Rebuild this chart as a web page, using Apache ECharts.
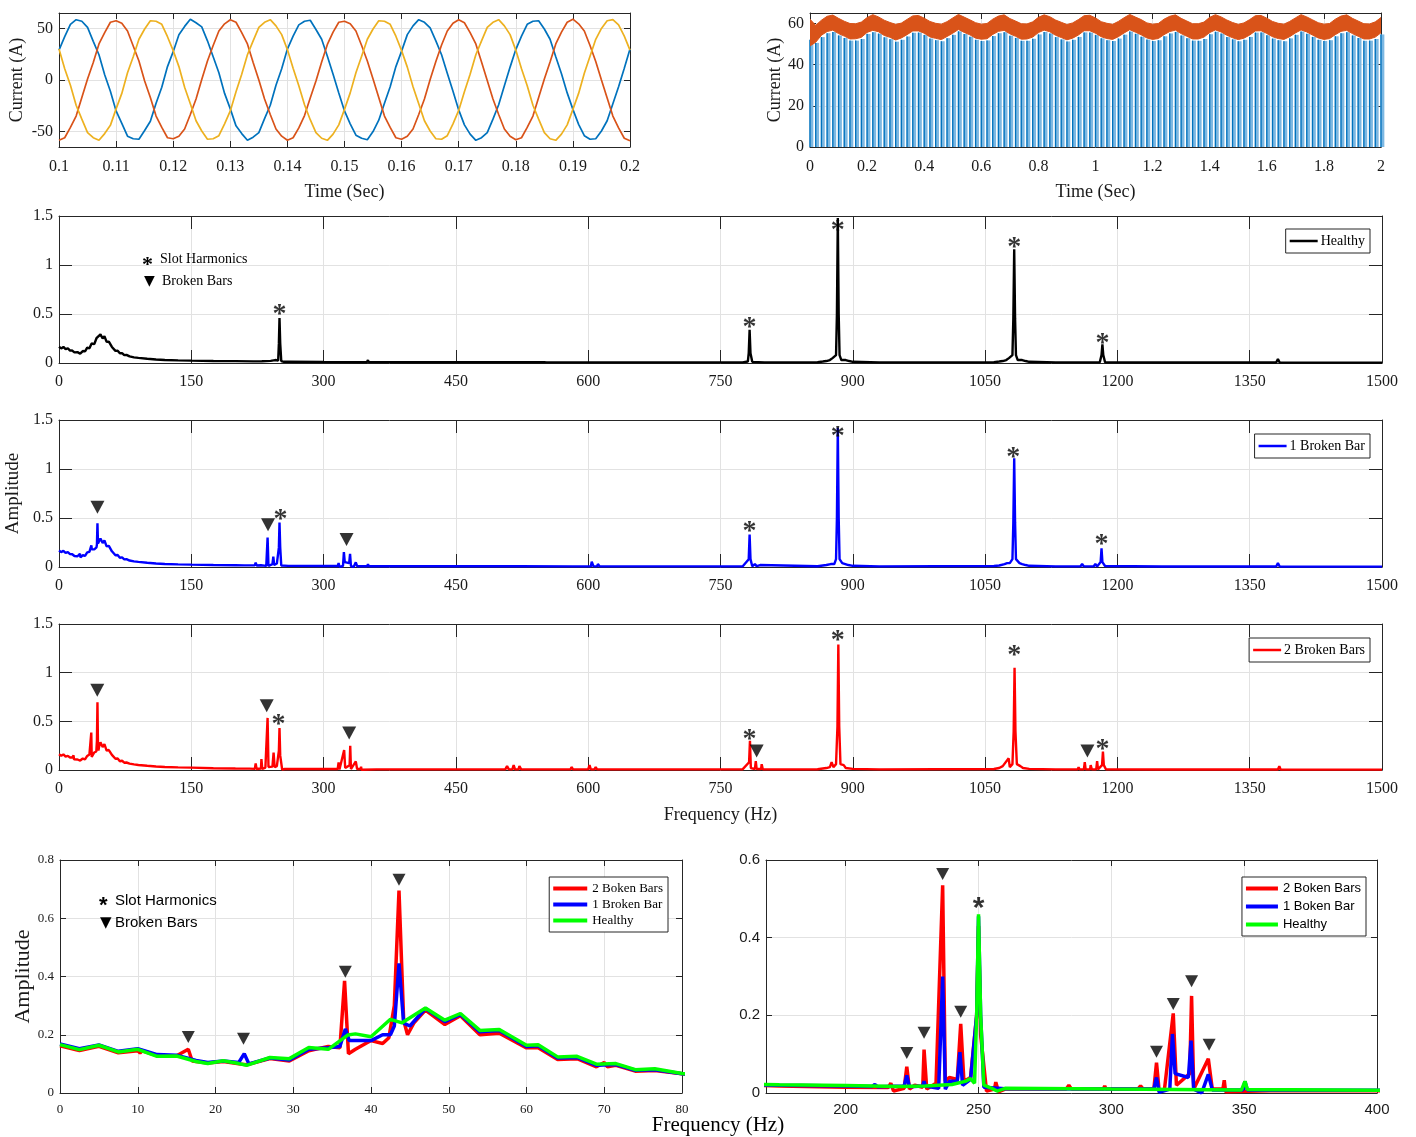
<!DOCTYPE html>
<html><head><meta charset="utf-8">
<script src="https://cdn.jsdelivr.net/npm/echarts@6/dist/echarts.min.js"></script>
<style>html,body{margin:0;padding:0;background:#fff}#c{width:1416px;height:1137px}</style>
</head><body><div id="c"></div><script>
// ---------------- DATA ----------------
// Panel A: three-phase stator currents, 0.1 s .. 0.2 s, sampled every 1 ms
const timeStartA = 0.1, timeStepA = 0.001;
const phaseBlue = [29,42,54,58.5,57,51,37.5,24.5,5,-11,-30,-42,-54.5,-57,-57.5,-49,-40,-22.5,-7,13,
 27.5,44,52,59,55.5,51.5,38,22.5,7,-13,-28,-44.5,-52,-58.5,-55.5,-51,-37.5,-24.5,-5,11,
 30,42.5,53.5,57,58,49,39.5,23,5.5,-12.5,-30,-42.5,-53.5,-56.5,-58,-50,-39,-22.5,-6.5,13,
 28,44,52.5,58.5,56,50.5,38,24.5,6.5,-11,-29,-43.5,-52.5,-58.5,-56,-51,-38,-24,-5.5,12.5,
 29.5,42.5,54,57,57.5,49.5,39.5,22.5,6,-12.5,-28.5,-43,-54,-57.5,-57,-49.5,-39.5,-23,-6.5,11.5,30];
const phaseRed = [-58.5,-56,-46,-35,-17,1,17,35,46,56,57.5,55,47.5,33,18.5,-1,-17,-35,-46,-56,
 -57,-54.5,-47.5,-33.5,-18.5,0.5,18.5,33.5,47.5,54.5,58.5,56,46,35,17,0,-18.5,-33.5,-47.5,-54.5,
 -58.5,-56,-46.5,-34.5,-17.5,-1,17.5,34.5,46.5,56,57,54.5,47.5,33.5,18.5,1,-17,-35,-46,-56,
 -57.5,-54.5,-47.5,-33.5,-18.5,0.5,18,34,47.5,55,58.5,55.5,46,35,17.5,-0.5,-18.5,-33.5,-47.5,-54.5,
 -58,-56,-46,-35,-17,1,17.5,35,46.5,56,59,54.5,47.5,33.5,18,0,-17.5,-35,-46.5,-56.5,-59];
const phaseYellow = [30,11,-5,-24.5,-38,-51,-56,-58.5,-52,-44,-28,-13,7,22.5,39.5,49.5,57.5,57,54,42,
 28.5,13,-7,-23,-39.5,-49.5,-57.5,-57,-54,-42.5,-30,-11.5,5.5,24.5,38,51,56,58.5,52.5,44,
 29.5,11.5,-5.5,-24,-38.5,-51,-56.5,-58.5,-52.5,-43.5,-28.5,-12.5,7,23,39.5,49.5,57.5,57,54,42.5,
 28.5,12.5,-6.5,-23,-39.5,-49.5,-57,-57.5,-54,-42.5,-29.5,-11.5,5.5,24.5,38,51,56,58.5,52.5,44,
 29,11,-5.5,-24.5,-38,-51,-57,-58.5,-52.5,-43.5,-28.5,-13,6.5,23,39.5,50,57.5,58.5,53.5,42.5,29];

// Panel B: 0..2 s, sampled every 20 ms
const timeStepB = 0.02;
const stripeTops = [52.0,
 50.5,53.3,55.2,55.8,54.1,52.9,51.6,51.6,52.4,54.8,55.7,55.0,53.2,52.3,51.1,
 52.0,53.6,55.4,55.5,54.3,52.6,51.8,51.3,52.8,54.4,56.1,54.8,53.5,52.0,51.4,
 51.7,53.8,55.2,55.7,54.0,52.9,51.5,51.5,52.5,54.6,55.8,55.1,53.3,52.2,51.2,
 52.0,53.4,55.6,55.5,54.3,52.7,51.8,51.4,52.6,54.5,56.0,54.9,53.5,52.1,51.4,
 51.8,53.7,55.1,55.8,54.1,52.8,51.6,51.5,52.4,54.7,55.9,55.0,53.3,52.2,51.3,
 52.0,53.4,55.5,55.6,54.2,52.6,51.8,51.3,52.7,54.4,56.0,54.9,53.4,52.0,51.4,
 51.8,53.7,55.2,55.7,54.1,52.9,51.5,51.6,52.4,54.6];
const envelopeLow = [49.0,
 50.8,54.2,56.0,56.7,55.0,53.8,52.4,52.5,53.2,55.6,56.6,55.9,54.1,53.2,51.9,
 52.9,54.5,56.3,56.3,55.2,53.4,52.7,52.1,53.6,55.2,57.0,55.6,54.4,52.8,52.3,
 52.5,54.6,56.1,56.6,54.9,53.7,52.3,52.4,53.3,55.5,56.7,55.9,54.2,53.1,52.0,
 52.8,54.3,56.4,56.4,55.2,53.5,52.6,52.2,53.5,55.3,56.9,55.7,54.4,52.9,52.2,
 52.6,54.5,56.0,56.7,55.0,53.7,52.4,52.4,53.3,55.5,56.8,55.8,54.2,53.0,52.1,
 52.8,54.3,56.3,56.4,55.1,53.5,52.6,52.2,53.5,55.3,56.8,55.8,54.3,52.9,52.2,
 52.6,54.5,56.1,56.6,55.0,53.7,52.4,52.4,53.3,55.4];
const envelopeHigh = [62.0,
 59.0,61.5,63.4,64.0,62.4,61.0,59.9,59.8,60.6,62.8,64.2,63.1,61.5,60.4,59.5,
 60.1,61.9,63.6,63.8,62.5,60.9,60.0,59.6,60.8,62.6,64.3,63.0,61.7,60.3,59.6,
 59.9,62.0,63.5,64.1,62.3,61.1,59.8,59.7,60.7,62.9,64.1,63.2,61.6,60.5,59.4,
 60.2,61.8,63.7,63.9,62.6,60.8,60.0,59.5,60.9,62.7,64.3,63.0,61.8,60.2,59.6,
 59.9,62.0,63.4,64.1,62.4,61.1,59.8,59.8,60.6,62.9,64.2,63.1,61.6,60.4,59.5,
 60.2,61.8,63.7,63.8,62.5,60.9,60.0,59.6,60.9,62.6,64.2,63.1,61.7,60.3,59.6,
 59.9,62.0,63.5,64.1,62.4,61.1,59.8,59.7,60.7,62.8];

// Spectra [frequency Hz, amplitude]
const healthySpectrum = [[0,0.166],[2.5,0.149],[5,0.164],[7.5,0.141],[10,0.15],[12.5,0.126],[15,0.127],[17.5,0.108],[19,0.101],[21,0.111],[23,0.101],[24,0.095],[27,0.122],[29.5,0.118],[32,0.156],[34.5,0.15],[37,0.199],[38,0.203],[40,0.193],[42.5,0.253],[44,0.241],[47,0.292],[49.5,0.25],[51.5,0.273],[54,0.215],[56.5,0.218],[60,0.164],[61.5,0.166],[64,0.124],[66.5,0.126],[69,0.099],[71.5,0.101],[74,0.08],[76.5,0.083],[80,0.067],[85,0.058],[90,0.052],[100,0.043],[110,0.036],[120,0.031],[135,0.027],[150,0.024],[175,0.021],[200,0.019],[220,0.017],[230,0.018],[240,0.022],[245,0.03],[247,0.037],[248.5,0.025],[249.3,0.2],[250,0.46],[250.8,0.2],[252,0.02],[255,0.012],[257,0.005],[260,0.012],[300,0.01],[349,0.008],[350.3,0.03],[351.2,0.009],[400,0.007],[483,0.007],[485,0.02],[487,0.007],[550,0.007],[551,0.012],[553,0.006],[583,0.006],[585,0.025],[587,0.006],[700,0.006],[775,0.006],[781,0.015],[782,0.1],[783,0.34],[784,0.1],[786,0.012],[800,0.006],[860,0.008],[866,0.015],[870,0.02],[874,0.03],[877,0.05],[879,0.03],[881,0.08],[882,0.5],[883,1.48],[884,0.5],[885,0.08],[887,0.03],[889,0.05],[892,0.03],[896,0.02],[900,0.012],[930,0.006],[1060,0.008],[1066,0.015],[1070,0.02],[1074,0.03],[1077,0.05],[1079,0.03],[1081,0.08],[1082,0.45],[1083,1.16],[1084,0.45],[1085,0.08],[1087,0.03],[1089,0.05],[1092,0.03],[1096,0.02],[1100,0.012],[1130,0.006],[1180,0.008],[1182,0.08],[1183,0.19],[1184,0.08],[1186,0.008],[1250,0.005],[1380,0.005],[1382,0.04],[1384,0.005],[1420,0.004],[1422,0.01],[1424,0.004],[1500,0.004]];

const oneBarSpectrum = [[0,0.168],[2.5,0.152],[5,0.165],[7.5,0.143],[10,0.152],[12.5,0.132],[15,0.13],[17.5,0.112],[19,0.105],[21,0.11],[23,0.105],[23.7,0.135],[24.3,0.1],[27,0.12],[29.5,0.113],[32,0.15],[34.5,0.155],[36,0.16],[36.7,0.22],[37.2,0.18],[40,0.18],[41.5,0.2],[42.5,0.2],[43,0.23],[43.6,0.445],[44.2,0.24],[45,0.23],[47,0.29],[49.5,0.245],[51.5,0.27],[54,0.21],[56.5,0.215],[60,0.16],[61.5,0.162],[64,0.12],[66.5,0.122],[69,0.095],[71.5,0.098],[74,0.078],[76.5,0.08],[80,0.066],[85,0.058],[90,0.052],[100,0.043],[110,0.036],[120,0.031],[135,0.027],[150,0.024],[175,0.02],[200,0.018],[210,0.017],[211,0.022],[212,0.016],[222,0.018],[223,0.045],[224,0.016],[229,0.018],[229.5,0.03],[230,0.018],[235,0.012],[236.5,0.3],[237.5,0.01],[239,0.03],[242,0.03],[243,0.105],[244,0.02],[247,0.035],[249.3,0.2],[250,0.455],[250.8,0.2],[252,0.015],[260,0.011],[300,0.01],[316,0.01],[317,0.04],[318,0.002],[322,0.01],[323,0.152],[324,0.05],[329,0.04],[330,0.135],[331,0.01],[334,0.0],[336.5,0.048],[338,0.008],[349.5,0.008],[350.3,0.03],[351.2,0.008],[400,0.007],[483,0.007],[485,0.02],[487,0.007],[510,0.007],[512,0.02],[514,0.007],[518,0.007],[520,0.015],[522,0.007],[582,0.006],[584,0.02],[586,0.006],[596,0.006],[598,0.02],[600,0.006],[603,0.006],[604,0.055],[606,0.006],[610,0.006],[611,0.03],[613,0.006],[700,0.006],[775,0.006],[782,0.08],[783,0.33],[784,0.08],[786,0.008],[789,0.03],[791,0.008],[795,0.02],[797,0.006],[860,0.008],[870,0.02],[875,0.03],[877,0.04],[879,0.03],[881,0.08],[882,0.5],[883,1.42],[884,0.5],[885,0.08],[888,0.04],[890,0.03],[895,0.02],[900,0.012],[930,0.006],[1060,0.01],[1066,0.015],[1072,0.03],[1075,0.04],[1078,0.04],[1080,0.03],[1081,0.08],[1082,0.45],[1083,1.11],[1084,0.45],[1085,0.08],[1089,0.04],[1092,0.03],[1096,0.02],[1100,0.012],[1130,0.006],[1146,0.006],[1148,0.02],[1150,0.006],[1158,0.006],[1160,0.03],[1162,0.006],[1173,0.006],[1175,0.03],[1177,0.006],[1181,0.05],[1182,0.19],[1183,0.05],[1186,0.01],[1250,0.005],[1380,0.005],[1382,0.04],[1384,0.005],[1500,0.004]];

const twoBarSpectrum = [[0,0.162],[2.5,0.146],[5,0.16],[7.5,0.138],[10,0.145],[10.3,0.138],[10.6,0.145],[12.5,0.128],[15,0.128],[16.5,0.15],[17,0.11],[19,0.103],[21,0.108],[23,0.1],[24,0.097],[27,0.118],[29.5,0.11],[32,0.145],[34.5,0.16],[36,0.155],[36.6,0.385],[37.1,0.135],[38,0.15],[40,0.18],[41.5,0.17],[42.3,0.19],[43,0.3],[43.6,0.695],[44.2,0.25],[44.7,0.2],[45.5,0.24],[47,0.285],[49.5,0.235],[51.5,0.265],[54,0.2],[56.5,0.205],[60,0.155],[61.5,0.155],[64,0.115],[66.5,0.118],[69,0.09],[70,0.105],[70.4,0.09],[71.5,0.095],[74,0.075],[76.5,0.077],[80,0.066],[85,0.058],[90,0.052],[100,0.043],[110,0.036],[120,0.031],[135,0.027],[150,0.024],[175,0.018],[200,0.015],[216,0.014],[217,0.025],[218,0.005],[222,0.012],[223,0.068],[224,0.01],[226,0.02],[229,0.015],[229.5,0.112],[230.5,0.01],[234,0.025],[236.5,0.535],[237.5,0.03],[239,0.04],[242,0.035],[243.3,0.178],[244.5,0.03],[247,0.04],[249.3,0.2],[250,0.43],[250.8,0.15],[253,0.005],[256,0.01],[256.5,0.028],[257.5,0.003],[260,0.01],[283,0.01],[284,0.02],[285,0.01],[297,0.01],[297.5,0.018],[298,0.01],[310,0.01],[311,0.018],[312,0.01],[316,0.01],[317,0.078],[318,0.005],[320,0.01],[323.3,0.205],[324.5,0.02],[329.5,0.05],[330.2,0.25],[331,0.01],[336.5,0.088],[338,0.01],[342,0.01],[342.5,0.033],[343,0.003],[360,0.006],[400,0.006],[480,0.006],[482,0.02],[484,0.006],[506,0.006],[508,0.04],[510,0.006],[514,0.006],[515.5,0.05],[517,0.006],[521,0.006],[522,0.04],[524,0.006],[544,0.006],[545,0.02],[547,0.006],[580,0.006],[581,0.03],[583,0.006],[594,0.006],[595,0.02],[597,0.006],[600,0.006],[601.5,0.05],[603,0.006],[607,0.006],[608.5,0.03],[610,0.006],[700,0.006],[775,0.006],[782.4,0.08],[783.4,0.3],[784.4,0.02],[789,0.01],[790,0.09],[791,0.01],[796,0.01],[796.7,0.06],[798,0.006],[860,0.008],[870,0.02],[874,0.03],[876,0.08],[878,0.03],[881,0.06],[882.6,0.45],[883.6,1.29],[884.6,0.45],[886,0.06],[889.7,0.05],[892,0.02],[900,0.012],[930,0.006],[1060,0.01],[1066,0.02],[1070,0.04],[1072,0.02],[1076.7,0.12],[1078,0.03],[1081,0.06],[1082.4,0.4],[1083.4,1.05],[1084.4,0.4],[1086,0.06],[1090,0.04],[1093,0.02],[1100,0.012],[1130,0.006],[1155,0.006],[1156,0.03],[1157,0.006],[1162,0.006],[1163,0.08],[1164,0.006],[1169,0.006],[1169.7,0.05],[1171,0.006],[1176,0.006],[1177,0.09],[1178,0.006],[1182.6,0.05],[1183.6,0.19],[1184.6,0.05],[1187,0.008],[1250,0.005],[1382,0.005],[1383.6,0.04],[1385,0.005],[1500,0.004]];

// Annotation marker positions [frequency, amplitude]
const slotMarksHealthy = [[250,0.57],[783,0.44],[883,1.43],[1083,1.26],[1183,0.28]];
const slotMarksOneBar = [[251,0.56],[783,0.44],[883,1.41],[1082,1.19],[1182,0.31]];
const barMarksOneBar = [[43.6,0.61],[237,0.43],[326,0.28]];
const slotMarksTwoBar = [[249,0.545],[783,0.39],[883,1.41],[1083,1.25],[1183,0.29]];
const barMarksTwoBar = [[43.4,0.82],[235.5,0.66],[329,0.38],[791,0.195],[1166,0.195]];
const barMarksLow = [[16.5,0.192],[23.6,0.186],[36.7,0.416],[43.6,0.732]];
const barMarksMid = [[223,0.103],[229.5,0.155],[236.5,0.564],[243.3,0.209],[317,0.106],[323.3,0.229],[330.2,0.288],[336.8,0.124]];
const slotMarksMid = [[250,0.497]];

// tick values
const ticksA_y = [-50,0,50];
const ticksB_y = [0,20,40,60];
const ticksG_x = [200,250,300,350,400];

// ---------------- CHART ----------------
const SERIF = 'Liberation Serif', SANS = 'Liberation Sans';
const INK = '#262626', GL = '#e2e2e2';
const grids = [
 {left:59, top:13, width:571, height:134},
 {left:810, top:13, width:571, height:134},
 {left:59, top:216, width:1323, height:147},
 {left:59, top:420, width:1323, height:147},
 {left:59, top:624, width:1323, height:146},
 {left:60, top:860, width:622, height:233},
 {left:766, top:860, width:611, height:233}
];
const axSpec = [
 {x:{min:0.1,max:0.2,interval:0.01,name:'Time (Sec)',ng:36,nfs:18}, y:{min:-65,max:65,custom:ticksA_y,name:'Current (A)',ng:33,nfs:18}, tl:6, fs:16, ff:SERIF, lm:12},
 {x:{min:0,max:2,interval:0.2,name:'Time (Sec)',ng:36,nfs:18}, y:{min:0,max:65,custom:ticksB_y,name:'Current (A)',ng:26,nfs:18}, tl:6, fs:16, ff:SERIF, lm:12},
 {x:{min:0,max:1500,interval:150}, y:{min:0,max:1.5,interval:0.5}, tl:13, fs:16, ff:SERIF, lm:11},
 {x:{min:0,max:1500,interval:150}, y:{min:0,max:1.5,interval:0.5,name:'Amplitude',ng:27,nfs:19}, tl:13, fs:16, ff:SERIF, lm:11},
 {x:{min:0,max:1500,interval:150,name:'Frequency (Hz)',ng:36,nfs:18}, y:{min:0,max:1.5,interval:0.5}, tl:13, fs:16, ff:SERIF, lm:11},
 {x:{min:0,max:80,interval:10}, y:{min:0,max:0.8,interval:0.2,name:'Amplitude',ng:24,nfs:22}, tl:6, fs:13, ff:SERIF, lm:10},
 {x:{min:170,max:400,custom:ticksG_x}, y:{min:0,max:0.6,interval:0.2}, tl:6, fs:15, ff:SANS, lm:9}
];
const fmtNum = v => String(parseFloat(Number(v).toPrecision(10)));
const xAxis = [], yAxis = [];
axSpec.forEach((s, gi) => {
  ['x','y'].forEach(k => {
    const a = s[k];
    ['main','opp'].forEach(which => {
      const main = which === 'main';
      const o = {
        type:'value', gridIndex:gi, min:a.min, max:a.max,
        position: k==='x' ? (main?'bottom':'top') : (main?'left':'right'),
        axisLine:{show:true,onZero:false,lineStyle:{color:INK,width:1}},
        axisTick:{show:true,inside:true,length:s.tl,lineStyle:{color:INK,width:1}},
        axisLabel:{show:main,color:'#1a1a1a',fontFamily:s.ff,fontSize:s.fs,margin:k==='x'?s.lm:6,formatter:fmtNum},
        splitLine:{show:main,lineStyle:{color:GL,width:1}}
      };
      if (a.interval) o.interval = a.interval;
      if (a.custom) { o.axisTick.customValues = a.custom; o.axisLabel.customValues = a.custom; }
      if (main && a.name) {
        o.name = a.name; o.nameLocation = 'middle'; o.nameGap = a.ng;
        o.nameTextStyle = {fontFamily:SERIF,fontSize:a.nfs,color:'#1a1a1a'};
      }
      (k==='x'?xAxis:yAxis).push(o);
    });
  });
});

function lineS(gi, name, data, color, width, z) {
  return {type:'line', name, xAxisIndex:2*gi, yAxisIndex:2*gi, data, color, showSymbol:false, symbol:'none',
    lineStyle:{color, width}, silent:true, z: z||2, clip:true};
}
function starS(gi, data, fs, ff) {
  return {type:'scatter', xAxisIndex:2*gi, yAxisIndex:2*gi, data, symbolSize:1, silent:true, z:6,
    itemStyle:{color:'rgba(0,0,0,0)'},
    label:{show:true,position:'inside',formatter:'*',fontFamily:ff||SERIF,fontSize:fs,fontWeight:'bold',color:'#000',offset:[0,fs*0.28]}};
}
function triS(gi, data, size) {
  return {type:'scatter', xAxisIndex:2*gi, yAxisIndex:2*gi, data, symbol:'triangle', symbolRotate:180,
    symbolSize:size||[14,13], itemStyle:{color:'#000'}, silent:true, z:6};
}

const tA = phaseBlue.map((v,i) => +(timeStartA + i*timeStepA).toFixed(4));
const tB = stripeTops.map((v,i) => +(i*timeStepB).toFixed(3));
const series = [];
series.push(lineS(0,'a',phaseBlue.map((v,i)=>[tA[i],v]),'#0072BD',1.7));
series.push(lineS(0,'b',phaseRed.map((v,i)=>[tA[i],v]),'#D95319',1.7));
series.push(lineS(0,'c',phaseYellow.map((v,i)=>[tA[i],v]),'#EDB120',1.7));
// panel B: sampled current stripes + envelope band
series.push({type:'bar', xAxisIndex:2, yAxisIndex:2, data:stripeTops.map((v,i)=>[tB[i],v]), barWidth:4, barGap:'-100%', clip:true, itemStyle:{color:'#7db8e2'}, silent:true});
series.push({type:'bar', xAxisIndex:2, yAxisIndex:2, data:stripeTops.map((v,i)=>[tB[i],v]), barWidth:1.3, barGap:'-100%', clip:true, itemStyle:{color:'#0072BD'}, silent:true});
series.push({type:'custom', xAxisIndex:2, yAxisIndex:2, data:[[0,0]], silent:true, z:3, clip:true,
  renderItem:(params, api) => {
    const pts = [];
    envelopeHigh.forEach((v,i) => pts.push(api.coord([tB[i], v])));
    for (let i = envelopeLow.length-1; i >= 0; i--) pts.push(api.coord([tB[i], envelopeLow[i]]));
    return {type:'polygon', shape:{points:pts}, style:{fill:'#D95319', stroke:'#D95319', lineWidth:1}};
  }});
// C, D, E
series.push(lineS(2,'Healthy',healthySpectrum,'#000000',2.4));
series.push(starS(2,slotMarksHealthy,28));
series.push(lineS(3,'1 Broken Bar',oneBarSpectrum,'#0000FF',2.4));
series.push(starS(3,slotMarksOneBar,28));
series.push(triS(3,barMarksOneBar));
series.push(lineS(4,'2 Broken Bars',twoBarSpectrum,'#FF0000',2.4));
series.push(starS(4,slotMarksTwoBar,28));
series.push(triS(4,barMarksTwoBar));
// F
series.push(lineS(5,'F2',twoBarSpectrum,'#FF0000',3.5,2));
series.push(lineS(5,'F1',oneBarSpectrum,'#0000FF',3.5,3));
series.push(lineS(5,'FH',healthySpectrum,'#00FF00',3.5,4));
series.push(triS(5,barMarksLow,[13,12]));
// G
series.push(lineS(6,'G2',twoBarSpectrum,'#FF0000',3.5,2));
series.push(lineS(6,'G1',oneBarSpectrum,'#0000FF',3.5,3));
series.push(lineS(6,'GH',healthySpectrum,'#00FF00',3.5,4));
series.push(triS(6,barMarksMid,[13,12]));
series.push(starS(6,slotMarksMid,30,SANS));

const legendText = {F2:'2 Boken Bars',F1:'1 Broken Bar',FH:'Healthy',G2:'2 Boken Bars',G1:'1 Boken Bar',GH:'Healthy'};
function legend(names, right, top, o) {
  return Object.assign({show:true, orient:'vertical', right, top, data:names, icon:'rect',
    itemWidth:28, itemHeight:2.5, itemGap:4, padding:[5,5,5,4], selectedMode:false,
    borderColor:INK, borderWidth:1, backgroundColor:'#fff', z:10,
    formatter:n => legendText[n] || n,
    textStyle:{fontFamily:SERIF,fontSize:14,color:'#000',padding:[0,0,0,-2]}}, o||{});
}
const legends = [
  legend(['Healthy'], 46, 229),
  legend(['1 Broken Bar'], 46, 434),
  legend(['2 Broken Bars'], 46, 638),
  legend(['F2','F1','FH'], 748, 877, {itemWidth:34, itemHeight:4, itemGap:3, textStyle:{fontFamily:SERIF,fontSize:13,color:'#000'}}),
  legend(['G2','G1','GH'], 50, 877, {itemWidth:32, itemHeight:4, itemGap:5, textStyle:{fontFamily:SANS,fontSize:13,color:'#000'}})
];

function txt(text, x, y, size, family, opts) {
  return {type:'text', x, y, z:20, silent:true, style:Object.assign({text, fill:'#000', fontSize:size, fontFamily:family, align:'left', verticalAlign:'middle'}, opts||{})};
}
const graphic = [
  txt('*', 142, 265, 22, SERIF, {fontWeight:'bold'}),
  txt('Slot Harmonics', 160, 259, 14, SERIF),
  txt('▼', 144, 281, 14, 'DejaVu Sans'),
  txt('Broken Bars', 162, 281, 14, SERIF),
  txt('*', 99, 906, 22, SANS, {fontWeight:'bold'}),
  txt('Slot Harmonics', 115, 901, 15, SANS),
  txt('▼', 100, 923, 15, 'DejaVu Sans'),
  txt('Broken Bars', 115, 923, 15, SANS),
  txt('Frequency (Hz)', 718, 1125, 21, SERIF, {align:'center'})
];

const chart = echarts.init(document.getElementById('c'), null, {renderer:'canvas'});
chart.setOption({
  animation:false, backgroundColor:'#fff',
  textStyle:{fontFamily:SERIF},
  grid: grids.map(g => Object.assign({containLabel:false, outerBoundsMode:'none', show:false}, g)),
  xAxis, yAxis, series, legend: legends, graphic
});
</script></body></html>
